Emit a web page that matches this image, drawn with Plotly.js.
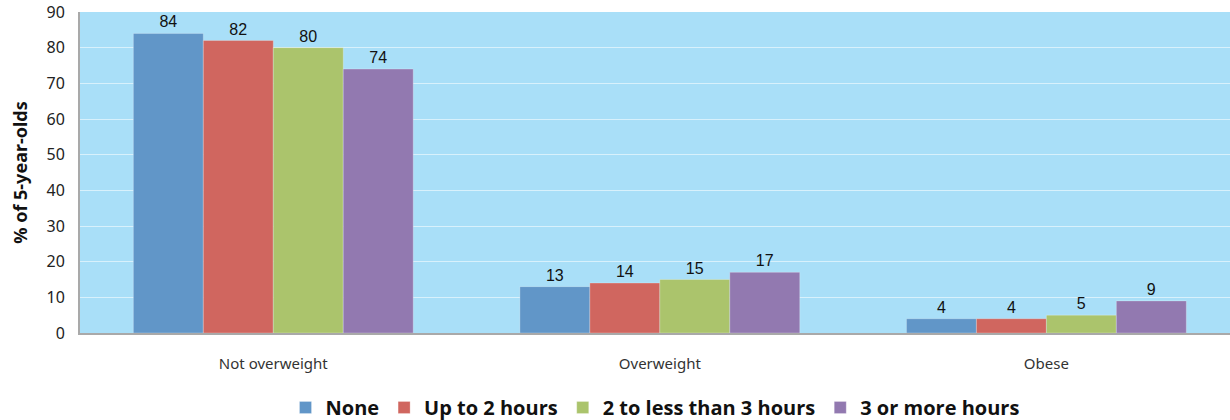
<!DOCTYPE html>
<html>
<head>
<meta charset="utf-8">
<script src="https://cdn.plot.ly/plotly-3.0.1.min.js"></script>
<style>html,body{margin:0;padding:0;background:#fff;overflow:hidden}</style>
</head>
<body>
<div id="chart" style="width:1230px;height:420px"></div>
<script>
const categories = ["Not overweight", "Overweight", "Obese"];
const seriesNames = ["None", "Up to 2 hours", "2 to less than 3 hours", "3 or more hours"];
const noneVals = [84, 13, 4];
const upTo2Vals = [82, 14, 4];
const twoTo3Vals = [80, 15, 5];
const threePlusVals = [74, 17, 9];
const colors = ["#6196c8", "#d0665f", "#abc46c", "#9279b0"];
const yTicks = [0, 10, 20, 30, 40, 50, 60, 70, 80, 90];

const allVals = [noneVals, upTo2Vals, twoTo3Vals, threePlusVals];
const traces = allVals.map((vals, i) => ({
  type: "bar",
  name: seriesNames[i],
  x: categories,
  y: vals,
  text: vals.map(String),
  textposition: "outside",
  cliponaxis: false,
  textfont: {family: "Liberation Sans, Arial, sans-serif", size: 16, color: "#111"},
  marker: {color: colors[i], line: {width: 1, color: "rgba(255,255,255,0.25)"}},
  hoverinfo: "skip"
}));

const layout = {
  width: 1230,
  height: 420,
  margin: {l: 80, r: 0, t: 12, b: 87, autoexpand: false},
  paper_bgcolor: "#ffffff",
  plot_bgcolor: "#a9dff8",
  barmode: "group",
  bargap: 0.276,
  bargroupgap: 0,
  font: {family: "Noto Sans, Open Sans, sans-serif", color: "#222"},
  xaxis: {
    type: "category",
    range: [-0.5, 2.475],
    showline: true,
    linecolor: "#a9a9a9",
    linewidth: 2,
    ticks: "",
    ticklabelstandoff: 16,
    tickfont: {size: 15, color: "#333"},
    showgrid: false,
    zeroline: false
  },
  yaxis: {
    range: [0, 90],
    tickvals: yTicks,
    ticktext: yTicks.map(String),
    showline: true,
    linecolor: "#a9a9a9",
    linewidth: 2,
    ticks: "",
    ticklabelstandoff: 10,
    tickfont: {size: 16, color: "#222"},
    showgrid: true,
    gridcolor: "rgba(255,255,255,0.55)",
    gridwidth: 1,
    zeroline: false,
    title: {text: "<b>% of 5-year-olds</b>", font: {size: 18, color: "#111"}, standoff: 14}
  },
  showlegend: true,
  legend: {
    orientation: "h",
    x: 0.5,
    xanchor: "center",
    y: -0.232,
    yanchor: "middle",
    font: {size: 20, color: "#111", family: "Open Sans, sans-serif", weight: "bold"}
  }
};

Plotly.newPlot("chart", traces, layout, {displayModeBar: false, staticPlot: true});
</script>
</body>
</html>
